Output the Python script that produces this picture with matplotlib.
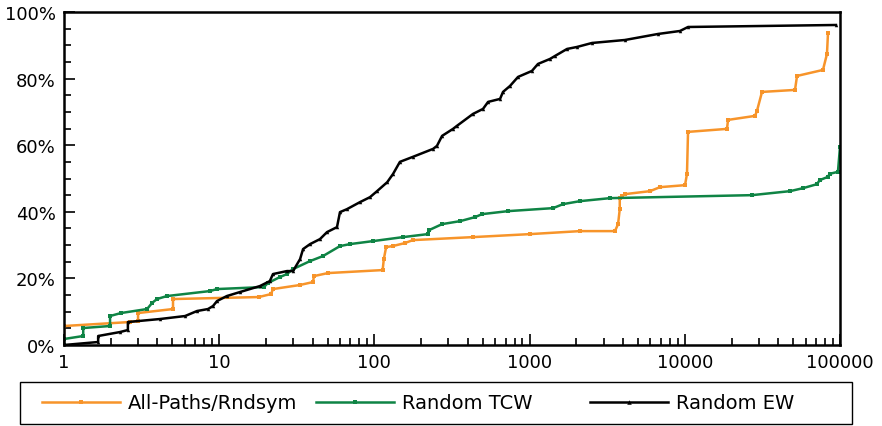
import numpy as np
import matplotlib
matplotlib.use("Agg")
from matplotlib import pyplot as plt
from matplotlib.patches import Rectangle
from matplotlib.ticker import FuncFormatter, MultipleLocator, LogLocator

# x value (log axis), cumulative percent
paths_x = [1, 1, 2.66, 3.0, 3.0, 5.04, 5.04, 18.0, 21.6, 22.2, 33, 40.2, 40.8, 50.2,
           113, 115, 119, 131, 157, 177, 432, 1006, 2113, 3548, 3715, 3810, 3810,
           3939, 4110, 5970, 6918, 10030, 10330, 10490, 18700, 18990, 28340, 29170,
           31440, 51290, 52850, 77660, 82420, 83680]
paths_y = [1.8, 5.7, 6.9, 7.2, 9.6, 10.8, 13.8, 14.4, 15.3, 16.8, 18.0, 18.9, 20.7, 21.6,
           22.5, 25.8, 29.4, 29.7, 30.6, 31.5, 32.4, 33.3, 34.2, 34.2, 36.3, 40.8, 44.1,
           44.7, 45.3, 46.2, 47.4, 48.0, 51.4, 64.0, 64.9, 67.6, 68.8, 70.3,
           76.0, 76.6, 80.8, 82.6, 87.4, 93.7]

tcw_x = [1, 1, 1.33, 1.33, 1.98, 1.98, 2.33, 3.43, 3.69, 3.97, 4.61, 8.73, 9.68, 19.4,
         20.6, 24.6, 27.3, 29.9, 38.5, 46.6, 60.0, 69.6, 98.0, 153, 221, 225, 273, 357,
         445, 494, 726, 1416, 1642, 2113, 3297, 27100, 47640, 57800, 71100, 73900,
         83700, 85700, 97000, 100000]
tcw_y = [0, 1.8, 2.7, 5.1, 5.7, 8.7, 9.6, 10.8, 12.6, 13.8, 14.7, 16.2, 16.8, 17.4,
         18.6, 20.4, 21.3, 22.8, 25.2, 26.7, 29.7, 30.3, 31.2, 32.4, 33.3, 34.5, 36.3, 37.2,
         38.4, 39.3, 40.2, 41.1, 42.3, 43.2, 44.1, 45.0, 46.2, 47.1, 48.3, 49.5,
         50.5, 51.4, 52.0, 59.5]

ew_x = [1, 1.66, 1.66, 2.30, 2.58, 2.58, 4.15, 6.03, 7.19, 8.47, 9.12, 9.68, 11.2, 13.6,
        18.3, 21.2, 22.2, 27.3, 29.9, 33.2, 34.7, 38.5, 44.6, 49.5, 57.4, 60.0, 66.6,
        80.7, 93.7, 104, 121, 132, 146, 177, 239, 253, 273, 321, 340, 432, 501, 540,
        645, 674, 748, 842, 1035, 1132, 1353, 1458, 1742, 2020, 2524, 4121, 6714,
        9310, 10490, 94200]
ew_y = [0, 0.9, 2.7, 3.9, 4.5, 6.9, 7.8, 8.7, 10.2, 10.8, 11.7, 13.2, 14.7, 15.9,
        17.7, 19.2, 21.3, 22.2, 22.2, 25.8, 28.8, 30.3, 31.8, 33.9, 35.4, 39.9, 40.8,
        42.9, 44.4, 46.2, 48.9, 51.4, 55.0, 56.5, 58.9, 59.8, 62.8, 64.9, 65.8, 69.4, 70.9, 73.0,
        73.9, 76.0, 77.8, 80.5, 82.3, 84.4, 85.9, 86.8, 88.9, 89.5, 90.7, 91.6, 93.4,
        94.3, 95.5, 96.1]

labels = ["All-Paths/Rndsym", "Random TCW", "Random EW"]
colors = ["#f7942a", "#0f8445", "#000000"]
markers = ["s", "s", "^"]

plt.rcParams['font.family'] = ['DejaVu Sans']
plt.rcParams['font.size'] = 13

fig = plt.figure(figsize=(8.82, 4.27), dpi=100)
ax = fig.add_axes([64/882, 1-346/427, 776/882, 333/427])

series = [(paths_x, paths_y), (tcw_x, tcw_y), (ew_x, ew_y)]
handles = []
for (xs, ys), lab, c, m in zip(series, labels, colors, markers):
    h, = ax.plot(xs, ys, color=c, lw=1.8, marker=m, ms=2.5, mew=0, label=lab)
    handles.append(h)

ax.set_xscale('log')
ax.set_xlim(1, 100000)
ax.set_ylim(0, 100)
ax.set_xticks([1, 10, 100, 1000, 10000, 100000])
ax.xaxis.set_major_formatter(FuncFormatter(lambda v, p: "%d" % round(v)))
ax.xaxis.set_minor_locator(LogLocator(base=10, subs=np.arange(2, 10)))
ax.xaxis.set_minor_formatter(FuncFormatter(lambda v, p: ""))
ax.yaxis.set_major_locator(MultipleLocator(20))
ax.yaxis.set_minor_locator(MultipleLocator(5))
ax.yaxis.set_major_formatter(FuncFormatter(lambda v, p: "%d%%" % v))
ax.tick_params(which='both', direction='in', top=False, right=False, width=1.2, labelsize=13)
ax.tick_params(which='major', length=8, pad=6)
ax.tick_params(which='minor', length=5)
for s in ax.spines.values():
    s.set_linewidth(1.8)

# legend box under the plot
fig.patches.append(Rectangle((20/882, 2/427), 832/882, 42/427, transform=fig.transFigure,
                             fill=False, edgecolor='black', lw=1.0))
for h, x0 in zip(handles, [42, 316, 590]):
    fig.legend(handles=[h], loc='center left', bbox_to_anchor=(x0/882, 23/427),
               frameon=False, handlelength=4.0, handletextpad=0.4, borderpad=0,
               borderaxespad=0, fontsize=14, markerscale=1.3)

fig.savefig("out.png", dpi=100)
